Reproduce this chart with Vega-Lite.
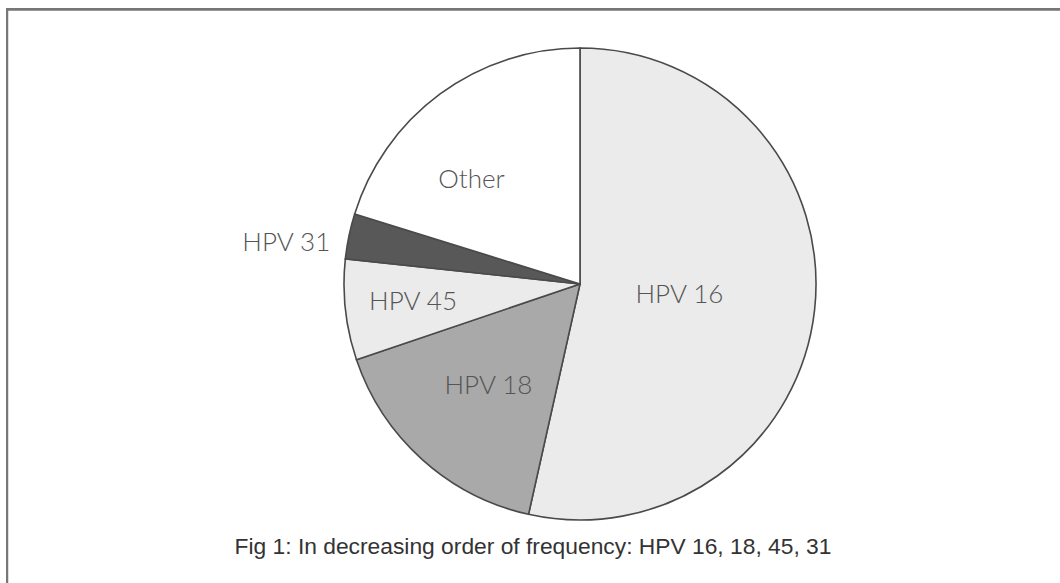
{
  "$schema": "https://vega.github.io/schema/vega-lite/v6.json",
  "width": 1054,
  "height": 575,
  "autosize": {"type": "none"},
  "padding": {"left": 6, "top": 8, "right": 0, "bottom": 0},
  "background": "#ffffff",
  "config": {"view": {"stroke": null}},
  "title": {
    "text": "Fig 1: In decreasing order of frequency: HPV 16, 18, 45, 31",
    "orient": "bottom",
    "anchor": "middle",
    "offset": -48,
    "font": "Liberation Sans",
    "fontSize": 22.8,
    "fontWeight": "normal",
    "color": "#333333"
  },
  "data": {
    "values": [
      {"label": "HPV 16", "value": 53.5, "rank": 1},
      {"label": "HPV 18", "value": 16.3, "rank": 2},
      {"label": "HPV 45", "value": 6.9, "rank": 3},
      {"label": "HPV 31", "value": 3.1, "rank": 4},
      {"label": "Other", "value": 20.2, "rank": 5}
    ]
  },
  "layer": [
    {
      "mark": {"type": "rule", "stroke": "#777777", "strokeWidth": 2},
      "encoding": {"x": {"datum": 0.001, "type": "quantitative", "scale": {"domain": [0, 1]}, "axis": null}}
    },
    {
      "mark": {"type": "rule", "stroke": "#777777", "strokeWidth": 2},
      "encoding": {"y": {"datum": 0.998, "type": "quantitative", "scale": {"domain": [0, 1]}, "axis": null}}
    },
    {
      "encoding": {
        "theta": {"field": "value", "type": "quantitative", "stack": true},
        "order": {"field": "rank", "type": "quantitative"},
        "x": {"datum": 0.5446, "type": "quantitative", "scale": {"domain": [0, 1]}, "axis": null},
        "y": {"datum": 0.52, "type": "quantitative", "scale": {"domain": [0, 1]}, "axis": null}
      },
      "layer": [
        {
          "mark": {"type": "arc", "radius": 236, "stroke": "#4a4a4a", "strokeWidth": 1.6},
          "encoding": {
            "color": {
              "field": "label",
              "type": "nominal",
              "scale": {
                "domain": ["HPV 16", "HPV 18", "HPV 45", "HPV 31", "Other"],
                "range": ["#ebebeb", "#a9a9a9", "#ebebeb", "#585858", "#ffffff"]
              },
              "legend": null
            }
          }
        },
        {
          "mark": {"type": "text", "radius": 100, "font": "Lato", "fontWeight": 300, "fontSize": 26, "color": "#555555"},
          "encoding": {"text": {"condition": {"test": "datum.label === 'HPV 16'", "field": "label"}, "value": ""}}
        },
        {
          "mark": {"type": "text", "radius": 137, "font": "Lato", "fontWeight": 300, "fontSize": 26, "color": "#555555"},
          "encoding": {"text": {"condition": {"test": "datum.label === 'HPV 18'", "field": "label"}, "value": ""}}
        },
        {
          "mark": {"type": "text", "radius": 168, "font": "Lato", "fontWeight": 300, "fontSize": 26, "color": "#555555"},
          "encoding": {"text": {"condition": {"test": "datum.label === 'HPV 45'", "field": "label"}, "value": ""}}
        },
        {
          "mark": {"type": "text", "radius": 300, "dy": 20, "font": "Lato", "fontWeight": 300, "fontSize": 26, "color": "#555555"},
          "encoding": {"text": {"condition": {"test": "datum.label === 'HPV 31'", "field": "label"}, "value": ""}}
        },
        {
          "mark": {"type": "text", "radius": 151, "dx": -19, "dy": 18, "font": "Lato", "fontWeight": 300, "fontSize": 26, "color": "#555555"},
          "encoding": {"text": {"condition": {"test": "datum.label === 'Other'", "field": "label"}, "value": ""}}
        }
      ]
    }
  ]
}
